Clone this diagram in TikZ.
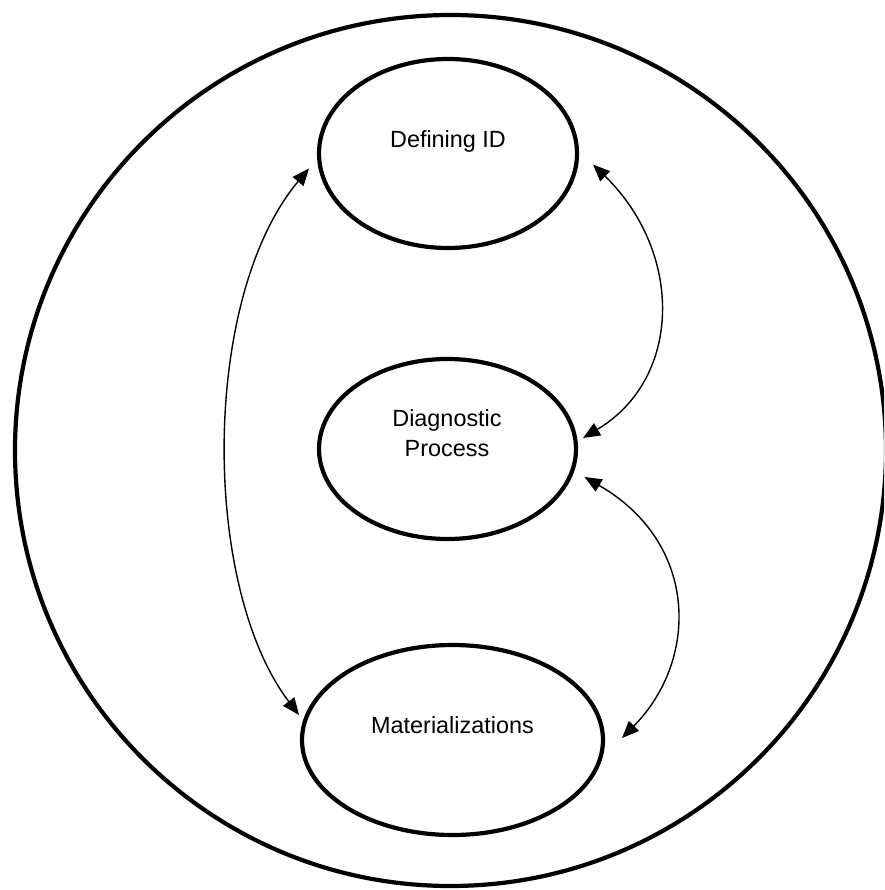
\documentclass[tikz,border=0pt]{standalone}
\usepackage{fontspec}
\setmainfont{Liberation Sans}
\usetikzlibrary{shapes.geometric,arrows.meta}

\tikzset{
  outline/.style={draw=black, line width=4.2pt},
  stage/.style={outline, ellipse, inner sep=0pt},
  caption/.style={font=\fontsize{23.4pt}{30pt}\selectfont, anchor=base, inner sep=0pt},
  link/.style={line width=1.4pt, {Triangle[length=17pt,width=14pt]}-{Triangle[length=17pt,width=14pt]}}
}

\begin{document}
\begin{tikzpicture}[x=1pt, y=-1pt]
  \clip (0,0) rectangle (884,890);
  \fill[white] (0,0) rectangle (884,890);

  % enclosing circle
  \node[outline, circle, inner sep=0pt, minimum size=871pt] (frame) at (450.5,450.5) {};

  % the three stages
  \node[stage, minimum width=258pt, minimum height=189pt] (defid) at (448,153.5) {};
  \node[stage, minimum width=257pt, minimum height=180pt] (diag) at (447.5,449) {};
  \node[stage, minimum width=301pt, minimum height=190pt] (mat) at (452.5,740) {};

  % stage labels
  \node[caption] (tdefid) at (448,147.5) {Defining ID};
  \node[caption] (tdiag1) at (447,426.5) {Diagnostic};
  \node[caption] (tdiag2) at (447,456.5) {Process};
  \node[caption] (tmat) at (452.5,733) {Materializations};

  % arrow end points beside the ellipses
  \coordinate (defL) at (309,168.5);
  \coordinate (defR) at (593,164.5);
  \coordinate (diagRa) at (583,438);
  \coordinate (diagRb) at (584.5,477);
  \coordinate (matL) at (299,715);
  \coordinate (matR) at (622,738);

  % two-way links
  \draw[link] (defL) .. controls (201,297) and (201,586) .. (matL);
  \draw[link] (defR) .. controls (683,252) and (683,378) .. (diagRa);
  \draw[link] (diagRb) .. controls (699,543) and (699,660) .. (matR);
\end{tikzpicture}
\end{document}
